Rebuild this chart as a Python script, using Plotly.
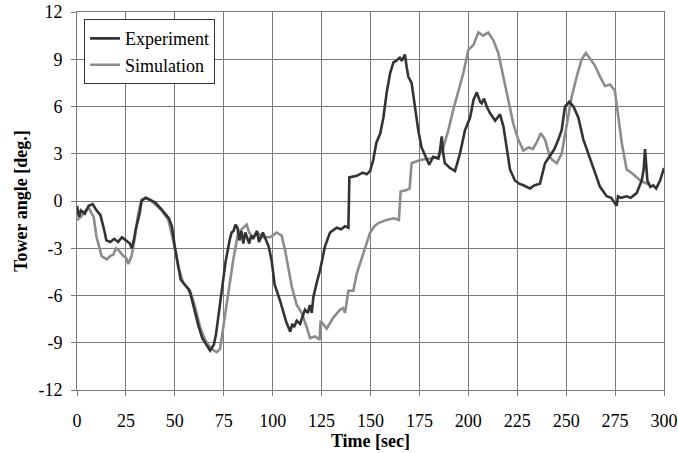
import plotly.graph_objects as go

exp_t = [0, 1, 2, 4, 6, 8, 10, 12, 14, 15, 17, 19, 21, 23, 25, 27, 28, 29, 30, 32, 33, 35, 37, 40, 43, 45, 47, 48.5,
         50, 52, 53, 55, 57, 58, 60, 62, 64, 66, 68, 69, 70, 71, 72, 73, 74, 76, 78, 79, 80, 81, 82, 83, 84, 85, 86,
         87, 88, 89, 90, 92, 93, 95, 97, 98, 99.5, 101, 103.7, 105.4, 107, 109, 110, 111, 112.3, 114, 116.5, 118,
         119, 120, 120.8, 122.5, 124.2, 126.7, 129.3, 132.7, 135, 137, 138.7, 139.2, 143, 146, 148, 149.8, 151.4,
         153, 155, 156.6, 158.3, 160, 161.7, 163, 165, 166, 167.6, 168.5, 169.3, 171, 172.7, 174.4, 176.1, 178.7,
         180, 182, 184.7, 185.5, 186.4, 187.2, 188, 190.6, 193.2, 195.7, 198.3, 200.9, 202.6, 204.3, 206, 206.8,
         208, 209.4, 211, 213.7, 216.2, 218, 219.6, 221.3, 223.8, 226, 228.1, 231.5, 234, 236.6, 239.2, 242.6,
         244, 246, 247.7, 249.4, 251.6, 253.7, 256.2, 258.8, 261.3, 263.9, 267.3, 270.7, 273, 275.8, 276.5, 278,
         280.9, 283, 286, 288.6, 289.6, 290.3, 291.2, 291.5, 293, 294.5, 296, 298, 300]
exp_v = [-0.3, -1.0, -0.6, -0.8, -0.3, -0.2, -0.6, -0.9, -1.9, -2.5, -2.6, -2.4, -2.6, -2.3, -2.5, -2.7, -3.0, -2.5,
         -1.8, -0.8, 0.0, 0.2, 0.1, -0.1, -0.5, -0.8, -1.1, -1.6, -2.9, -4.3, -5.0, -5.3, -5.6, -5.9, -6.9, -7.9,
         -8.7, -9.1, -9.5, -9.3, -9.1, -8.5, -7.5, -6.5, -5.5, -3.8, -2.5, -2.0, -1.9, -1.5, -1.7, -2.5, -1.9, -2.7,
         -2.0, -2.4, -2.7, -2.2, -2.4, -1.9, -2.6, -2.0, -2.6, -2.9, -3.8, -5.3, -6.3, -7.1, -7.7, -8.3, -7.8, -8.0,
         -7.6, -7.8, -6.9, -7.1, -6.6, -7.1, -6.1, -5.2, -4.4, -2.9, -2.0, -1.7, -1.8, -1.6, -1.7, 1.5, 1.6, 1.8,
         1.7, 1.9, 2.6, 3.7, 4.3, 5.3, 6.9, 8.1, 8.8, 8.9, 9.1, 8.9, 9.3, 8.5, 7.9, 7.5, 6.0, 4.5, 3.4, 2.6, 2.3,
         2.8, 2.7, 3.2, 4.1, 3.0, 2.4, 2.1, 1.9, 3.0, 4.5, 5.3, 6.4, 6.9, 6.3, 6.2, 6.5, 6.0, 5.6, 5.1, 5.5, 4.7,
         3.4, 2.0, 1.3, 1.1, 1.0, 0.8, 1.0, 1.1, 2.4, 3.0, 3.3, 3.9, 4.5, 6.0, 6.3, 6.0, 5.3, 3.9, 3.0, 2.0, 0.9,
         0.3, 0.2, -0.3, 0.3, 0.2, 0.3, 0.2, 0.5, 1.3, 2.0, 3.3, 2.0, 1.3, 0.9, 1.0, 0.8, 1.3, 2.1]

sim_t = [0, 2, 3.2, 5.8, 7.5, 8.5, 10, 12.6, 15.2, 17, 18.6, 20, 21.1, 23.7, 25, 26.2, 27.9, 29.6, 31.3, 33, 35.6,
         39, 43.3, 46.7, 49.2, 51.8, 54.3, 57.8, 60.3, 62.9, 65.4, 68, 70, 71.4, 73.1, 74.8, 76.5, 78.2, 79.9, 82.4,
         84, 86.7, 88, 90.1, 92, 95.2, 98.6, 100, 102, 104.6, 106.3, 108, 109.7, 112.3, 114.8, 117.4, 119.1, 121.6,
         124, 124.5, 127.6, 131, 134.4, 136, 137, 138.7, 141.2, 143, 146.3, 149.8, 152, 154, 158.3, 162, 164.5,
         165.4, 168.5, 170, 171, 175.3, 180.4, 184.7, 187.2, 189.8, 192.3, 194.9, 197.4, 200, 202.6, 205.1, 207.6,
         210.2, 212.8, 215.3, 217.9, 220.4, 223, 225.5, 228.1, 230.7, 233, 234.9, 237, 239.2, 241.7, 243, 245.2,
         247.7, 250.2, 252.8, 255.4, 257.9, 260.1, 262.2, 264.7, 267.3, 269.8, 272.4, 274.9, 276.7, 278.4, 280.9,
         284.3, 287.7, 291.1, 293]
sim_v = [-1.2, -1.0, -0.8, -0.4, -0.8, -1.0, -2.3, -3.5, -3.7, -3.5, -3.4, -3.0, -3.1, -3.5, -3.6, -4.0, -3.5, -2.3,
         -0.8, 0.1, 0.2, -0.1, -0.6, -1.2, -2.5, -4.2, -5.2, -5.7, -6.7, -8.0, -8.8, -9.3, -9.5, -9.6, -9.4, -8.0,
         -6.5, -5.0, -3.7, -2.0, -1.8, -1.5, -2.0, -2.3, -2.0, -2.3, -2.3, -2.2, -2.0, -2.2, -3.1, -4.2, -5.4, -6.6,
         -7.1, -8.0, -8.7, -8.6, -8.8, -7.6, -8.1, -7.4, -6.9, -6.8, -7.1, -5.7, -5.7, -4.6, -3.3, -2.0, -1.6, -1.4,
         -1.2, -1.1, -1.2, 0.6, 0.7, 0.8, 2.4, 2.6, 2.7, 2.8, 3.4, 4.5, 5.8, 6.9, 8.1, 9.6, 9.9, 10.7, 10.5, 10.7,
         10.2, 9.4, 7.9, 6.4, 4.9, 3.9, 3.2, 3.4, 3.3, 3.7, 4.3, 3.9, 2.8, 2.6, 2.4, 3.0, 4.9, 6.6, 7.9, 9.0, 9.4,
         9.0, 8.6, 7.9, 7.3, 7.4, 7.0, 5.3, 3.7, 2.0, 1.7, 1.3, 1.1, 1.0]

x_ticks = [0, 25, 50, 75, 100, 125, 150, 175, 200, 225, 250, 275, 300]
y_ticks = [-12, -9, -6, -3, 0, 3, 6, 9, 12]

FONT = "Liberation Serif"
GRID = "#7a7a7a"

fig = go.Figure()
fig.add_trace(go.Scatter(x=sim_t, y=sim_v, mode="lines", name="Simulation",
                         line=dict(color="#8c8c8c", width=2.6)))
fig.add_trace(go.Scatter(x=exp_t, y=exp_v, mode="lines", name="Experiment",
                         line=dict(color="#333333", width=2.6)))

fig.update_layout(
    width=678, height=453,
    margin=dict(l=77, r=14, t=12, b=63, autoexpand=False),
    paper_bgcolor="white", plot_bgcolor="white",
    font=dict(family=FONT, size=18, color="black"),
    showlegend=True,
    legend=dict(x=0.012, y=0.981, xanchor="left", yanchor="top",
                bgcolor="white", bordercolor="#333333", borderwidth=1,
                traceorder="reversed", itemwidth=30,
                font=dict(family=FONT, size=18, color="black"),
                tracegroupgap=0),
    xaxis=dict(range=[0, 300], tickvals=x_ticks, ticktext=[str(v) for v in x_ticks],
               showgrid=True, gridcolor=GRID, gridwidth=1,
               showline=True, linecolor=GRID, linewidth=1, mirror=True,
               ticks="outside", ticklen=5, tickcolor=GRID, ticklabelstandoff=9,
               zeroline=False, automargin=False,
               title=dict(text="<b>Time [sec]</b>", standoff=2,
                          font=dict(family=FONT, size=18))),
    yaxis=dict(range=[-12, 12], tickvals=y_ticks, ticktext=[str(v) for v in y_ticks],
               showgrid=True, gridcolor=GRID, gridwidth=1,
               showline=True, linecolor=GRID, linewidth=1, mirror=True,
               ticks="outside", ticklen=5, tickcolor=GRID, ticklabelstandoff=5,
               zeroline=False, automargin=False,
               title=dict(text="<b>Tower angle [deg.]</b>", standoff=6,
                          font=dict(family=FONT, size=18))),
)

fig.write_html("out.html")
